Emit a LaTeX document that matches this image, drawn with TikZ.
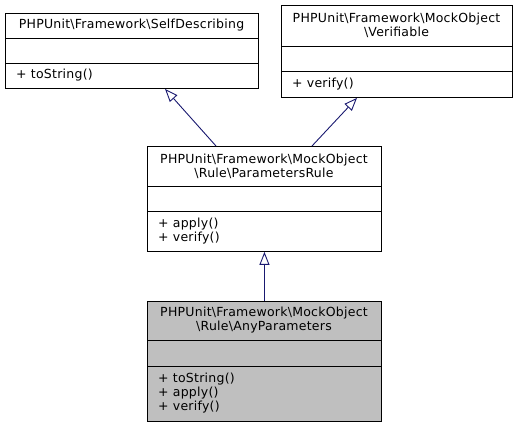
\documentclass[tikz,border=0pt]{standalone}
\usepackage{fontspec}
\setmainfont{DejaVu Sans}[LetterSpace=2]
\usetikzlibrary{arrows.meta}
\definecolor{midnight}{RGB}{25,25,112}
\definecolor{grey75}{RGB}{191,191,191}
\begin{document}
\begin{tikzpicture}[x=1pt,y=-1pt, font=\fontsize{12.5}{14}\selectfont]
\useasboundingbox (0,0) rectangle (519,427);
\tikzset{
 umlbox/.style={draw=black, line width=0.9pt, inner sep=0pt, anchor=north west},
 sepline/.style={draw=black, line width=0.9pt},
 ttl/.style={align=center, inner sep=0pt},
 meth/.style={align=left, anchor=west, inner sep=0pt},
 inherit/.style={draw=midnight, line width=0.9pt, -{Triangle[open, length=13pt, width=10pt]}}
}
% Box 1: SelfDescribing
\node[umlbox, minimum width=253pt, minimum height=75pt] (sd) at (5,13) {};
\draw[sepline] ([yshift=-25pt]sd.north west) -- ([yshift=-25pt]sd.north east);
\draw[sepline] ([yshift=-50pt]sd.north west) -- ([yshift=-50pt]sd.north east);
\node[ttl] (sdt) at (131.5,25.5) {PHPUnit\textbackslash Framework\textbackslash SelfDescribing};
\node[meth] (sdm) at (16,75.5) {+ toString()};
% Box 2: Verifiable
\node[umlbox, minimum width=231pt, minimum height=92pt] (vf) at (281,5) {};
\draw[sepline] ([yshift=-41pt]vf.north west) -- ([yshift=-41pt]vf.north east);
\draw[sepline] ([yshift=-66pt]vf.north west) -- ([yshift=-66pt]vf.north east);
\node[ttl] (vft) at (396.5,25.5) {PHPUnit\textbackslash Framework\textbackslash MockObject\\\textbackslash Verifiable};
\node[meth] (vfm) at (292,84) {+ verify()};
% Box 3: ParametersRule
\node[umlbox, minimum width=234pt, minimum height=105pt] (pr) at (147,146) {};
\draw[sepline] ([yshift=-40pt]pr.north west) -- ([yshift=-40pt]pr.north east);
\draw[sepline] ([yshift=-65pt]pr.north west) -- ([yshift=-65pt]pr.north east);
\node[ttl] (prt) at (264,166) {PHPUnit\textbackslash Framework\textbackslash MockObject\\\textbackslash Rule\textbackslash ParametersRule};
\node[meth] (prm) at (158,231) {+ apply()\\+ verify()};
% Box 4: AnyParameters
\node[umlbox, fill=grey75, minimum width=234pt, minimum height=120pt] (ap) at (147,301) {};
\draw[sepline] ([yshift=-39pt]ap.north west) -- ([yshift=-39pt]ap.north east);
\draw[sepline] ([yshift=-65pt]ap.north west) -- ([yshift=-65pt]ap.north east);
\node[ttl] (apt) at (264,320.5) {PHPUnit\textbackslash Framework\textbackslash MockObject\\\textbackslash Rule\textbackslash AnyParameters};
\node[meth] (apm) at (158,393.5) {+ toString()\\+ apply()\\+ verify()};
% Inheritance arrows
\draw[inherit] ([xshift=69pt]pr.north west) -- ([xshift=160pt]sd.south west);
\draw[inherit] ([xshift=165pt]pr.north west) -- ([xshift=76pt]vf.south west);
\draw[inherit] (ap.north) -- (pr.south);
\end{tikzpicture}
\end{document}
